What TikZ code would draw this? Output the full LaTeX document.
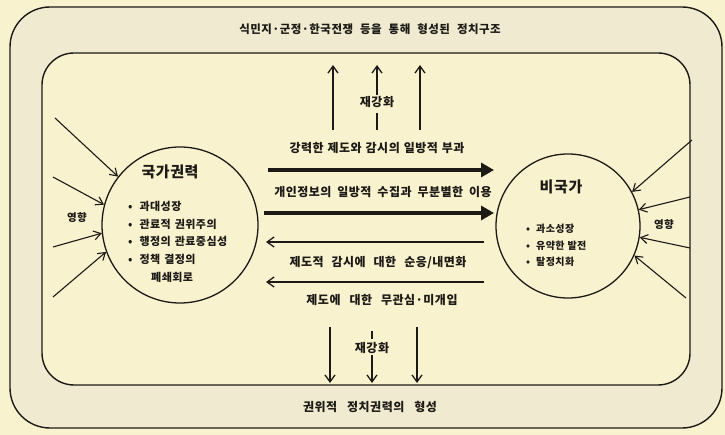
\documentclass[tikz,border=0pt]{standalone}
\usepackage{fontspec}
\setmainfont{Noto Sans CJK KR}
\newfontfamily\lblfont[LetterSpace=4]{Noto Sans CJK KR}
\usetikzlibrary{arrows.meta}
\definecolor{paper}{RGB}{248,242,206}
\definecolor{band}{RGB}{240,235,208}
\definecolor{ink}{RGB}{28,26,22}
\tikzset{
  x=1pt, y=-1pt,
  frame/.style={draw=ink, line width=1.4pt},
  lbl/.style={font=\lblfont\fontsize{12}{14}\selectfont\bfseries, text=ink, inner sep=1pt},
  circ/.style={circle, draw=ink, line width=1.3pt, inner sep=0pt},
  bigarrow/.style={draw=ink, line width=3.6pt, -{Triangle[length=13pt,width=14pt]}},
  thinarrow/.style={draw=ink, line width=1.3pt, -{Straight Barb[length=7pt,width=10pt,line width=1.3pt]}},
  infl/.style={draw=ink, line width=1.1pt, -{Straight Barb[length=7pt,width=9pt,line width=1.1pt]}},
  vline/.style={draw=ink, line width=1.3pt},
}
\begin{document}
\begin{tikzpicture}
\useasboundingbox (0,0) rectangle (725,435);
\fill[paper] (0,0) rectangle (725,435);
% frames
\draw[frame, fill=band, rounded corners=40pt] (10,7) rectangle (722,428);
\draw[frame, fill=paper, rounded corners=32pt] (42,53) rectangle (690,385);
% top and bottom labels
\node[lbl, font=\lblfont\fontsize{11.5}{13}\selectfont\bfseries] (top) at (370,29) {식민지·군정·한국전쟁\hspace{7pt}등을\hspace{7pt}통해\hspace{7pt}형성된\hspace{7pt}정치구조};
\node[lbl] (bot) at (370,407) {권위적\hspace{10pt}정치권력의\hspace{10pt}형성};
% circles
\node[circ, minimum size=156pt] (st) at (180,225) {};
\node[circ, minimum size=144pt] (ns) at (568,226) {};
% circle contents
\node[font=\lblfont\fontsize{15}{18}\selectfont\bfseries, text=ink] (stt) at (170,172) {국가권력};
\node[lbl, anchor=north west, align=left, font=\lblfont\fontsize{11}{17.7}\selectfont\bfseries] (stl) at (127,200)
 {•\hspace{7pt}과대성장\\ •\hspace{7pt}관료적\hspace{4pt}권위주의\\ •\hspace{7pt}행정의\hspace{4pt}관료중심성\\ •\hspace{7pt}정책\hspace{4pt}결정의\\ \hspace{23pt}폐쇄회로};
\node[font=\lblfont\fontsize{15}{18}\selectfont\bfseries, text=ink] (nst) at (561,187) {비국가};
\node[lbl, anchor=north west, align=left, font=\lblfont\fontsize{10}{16.5}\selectfont\bfseries] (nsl) at (525,223)
 {•\hspace{6pt}과소성장\\ •\hspace{6pt}유약한\hspace{3pt}발전\\ •\hspace{6pt}탈정치화};
% middle labels
\node[lbl] (m1) at (377,148) {강력한\hspace{4pt}제도와\hspace{4pt}감시의\hspace{4pt}일방적\hspace{4pt}부과};
\node[lbl] (m2) at (383,192) {개인정보의\hspace{6pt}일방적\hspace{6pt}수집과\hspace{6pt}무분별한\hspace{6pt}이용};
\node[lbl] (m3) at (378,263) {제도적\hspace{8pt}감시에\hspace{8pt}대한\hspace{8pt}순응/내면화};
\node[lbl] (m4) at (382,300) {제도에\hspace{9pt}대한\hspace{9pt}무관심·미개입};
% middle arrows
\coordinate (a1s) at (268,170); \coordinate (a1e) at (494,170);
\coordinate (a2s) at (264,213); \coordinate (a2e) at (494,213);
\coordinate (b1s) at (484,242); \coordinate (b1e) at (266,242);
\coordinate (b2s) at (484,282); \coordinate (b2e) at (266,282);
\draw[bigarrow] (a1s) -- (a1e);
\draw[bigarrow] (a2s) -- (a2e);
\draw[thinarrow] (b1s) -- (b1e);
\draw[thinarrow] (b2s) -- (b2e);
% up arrows
\node[lbl] (reup) at (377,102) {재강화};
\coordinate (u1s) at (333,130); \coordinate (u1e) at (333,65);
\coordinate (u3s) at (420,130); \coordinate (u3e) at (420,65);
\coordinate (u2s) at (377,130); \coordinate (u2t) at (377,113);
\coordinate (u2e) at (377,65);
\draw[thinarrow] (u1s) -- (u1e);
\draw[thinarrow] (u3s) -- (u3e);
\draw[vline] (u2s) -- (u2t);
\draw[thinarrow] (reup.north) -- (u2e);
% down arrows
\node[lbl] (redn) at (372,348) {재강화};
\coordinate (d1s) at (330,327); \coordinate (d1e) at (330,383);
\coordinate (d3s) at (417,327); \coordinate (d3e) at (417,383);
\coordinate (d2s) at (372,331); \coordinate (d2t) at (372,339);
\coordinate (d2e) at (372,383);
\draw[thinarrow] (d1s) -- (d1e);
\draw[thinarrow] (d3s) -- (d3e);
\draw[vline] (d2s) -- (d2t);
\draw[thinarrow] (redn.south) -- (d2e);
% influence left
\node[lbl, font=\lblfont\fontsize{10.5}{12}\selectfont\bfseries] (infL) at (77,218) {영향};
\coordinate (l1) at (55,118); \coordinate (l2) at (53,177);
\coordinate (l3) at (53,247); \coordinate (l4) at (53,297);
\draw[infl] (l1) -- (st.142);
\draw[infl] (l2) -- (st.165);
\draw[infl] (l3) -- (st.186);
\draw[infl] (l4) -- (st.200);
% influence right
\node[lbl, font=\lblfont\fontsize{10.5}{12}\selectfont\bfseries] (infR) at (664,225) {영향};
\coordinate (r1) at (692,140); \coordinate (r2) at (690,197);
\coordinate (r3) at (690,248); \coordinate (r4) at (686,298);
\draw[infl] (r1) -- (ns.28);
\draw[infl] (r2) -- (ns.13);
\draw[infl] (r3) -- (ns.-9);
\draw[infl] (r4) -- (ns.-24);
\end{tikzpicture}
\end{document}
